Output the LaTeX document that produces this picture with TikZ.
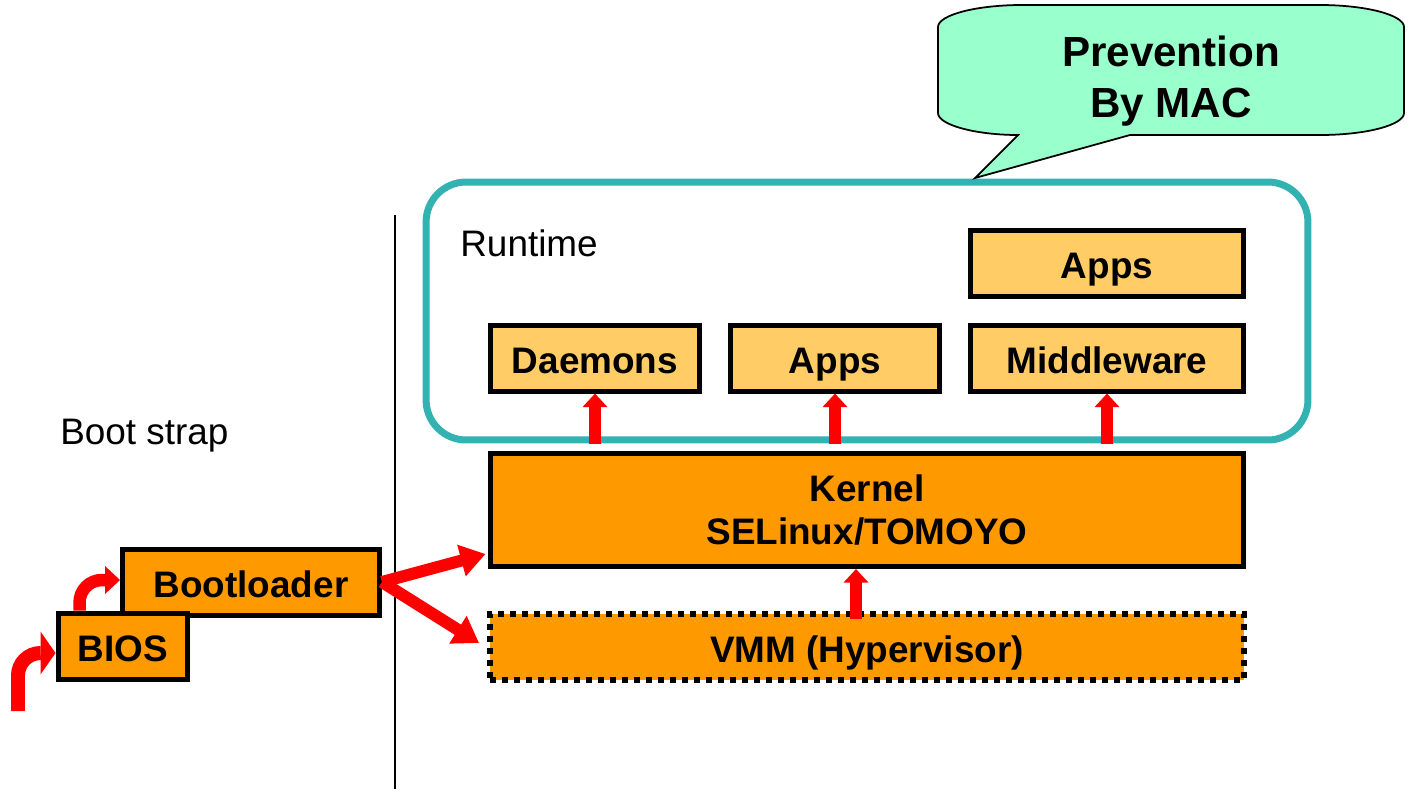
\documentclass[tikz,border=0pt]{standalone}
\usepackage{fontspec}
\setmainfont{Liberation Sans}
\usetikzlibrary{arrows.meta, positioning, calc}

\definecolor{appfill}{HTML}{FFCC66}
\definecolor{corefill}{HTML}{FF9900}
\definecolor{macgreen}{HTML}{99FFCC}
\definecolor{runteal}{HTML}{33B2B2}

\begin{document}
\begin{tikzpicture}[
    x=0.02cm, y=-0.02cm,
    plaintext/.style={font=\fontsize{21}{25}\selectfont, inner sep=0pt},
    oneline/.style={text height=0.6cm, text depth=0pt},
    userbox/.style={rectangle, draw=black, line width=0.1cm, fill=appfill, minimum height=1.32cm, inner sep=0pt, font=\bfseries\fontsize{21}{25}\selectfont, oneline},
    corebox/.style={rectangle, draw=black, line width=0.1cm, fill=corefill, minimum height=1.32cm, inner sep=0pt, font=\bfseries\fontsize{21}{24.5}\selectfont},
    vmmbox/.style={corebox, oneline, line width=0.12cm, dash pattern=on 0.12cm off 0.12cm},
    runframe/.style={rectangle, draw=runteal, line width=0.14cm, rounded corners=0.8cm, minimum width=17.64cm, minimum height=5.16cm},
    macbubble/.style={draw=black, line width=1pt, fill=macgreen, line join=miter},
    uparrow/.style={draw=red, line width=0.23cm, -{Triangle[width=0.48cm, length=0.27cm]}},
    bootarrow/.style={draw=red, line width=0.24cm, -{Triangle[width=0.62cm, length=0.5cm]}},
    curvearrow/.style={draw=red, line width=0.28cm, rounded corners=0.45cm},
  ]
    \useasboundingbox (0,0) rectangle (1412,789);

    % runtime layer
    \node[runframe] (runtime) at (867,311) {};
    \node[plaintext, anchor=base west] (runlabel) at (460,256) {Runtime};
    \node[userbox, minimum width=5.48cm] (appstop) at (1107,263) {Apps};
    \node[userbox, minimum width=4.2cm] (daemons) at (595,358) {Daemons};
    \node[userbox, minimum width=4.2cm] (appsmid) at (835,358) {Apps};
    \node[userbox, minimum width=5.48cm] (middleware) at (1107,358) {Middleware};

    % kernel and vmm
    \node[corebox, minimum width=15.08cm, minimum height=2.26cm, align=center] (kernel) at (867,510) {Kernel\\SELinux/TOMOYO};
    \node[vmmbox, minimum width=15.08cm] (vmm) at (867,647) {VMM (Hypervisor)};

    % boot strap side
    \draw[line width=0.04cm] (395,215) coordinate (sepTop) -- (395,789) coordinate (sepBottom);
    \node[plaintext, anchor=base west] (bootlabel) at (60,444) {Boot strap};
    \node[corebox, oneline, minimum width=5.14cm] (bootloader) at (251,582) {Bootloader};
    \node[corebox, oneline, minimum width=2.6cm] (bios) at (123,646) {BIOS};

    % speech bubble
    \draw[macbubble] (1130,135) -- (1320,135) .. controls (1366,135) and (1404,125) .. (1404,113)
      -- (1404,27) .. controls (1404,15) and (1366,5) .. (1320,5)
      -- (1022,5) .. controls (976,5) and (938,15) .. (938,27)
      -- (938,113) .. controls (938,125) and (976,135) .. (1018,135)
      -- (975,178) coordinate (macTip) -- cycle;
    \node[font=\bfseries\fontsize{24}{29}\selectfont, align=center, inner sep=0pt] (mactext) at (1171,81) {Prevention\\By MAC};

    % arrows
    \foreach \upper in {daemons, appsmid, middleware}
      \draw[uparrow] ([yshift=0.14cm]\upper.south |- kernel.north) -- (\upper.south);
    \draw[uparrow] ([xshift=-0.22cm, yshift=-0.16cm]vmm.north) -- ([xshift=-0.22cm]kernel.south);
    \draw[bootarrow] (bootloader.east) -- ([xshift=-0.04cm, yshift=0.3cm]kernel.south west);
    \draw[bootarrow] (bootloader.east) -- ([xshift=-0.16cm, yshift=0.08cm]vmm.west);

    \coordinate (powerin) at (18,789);
    \draw[curvearrow] (powerin |- 0,711) |- ([xshift=-0.3cm, yshift=-0.14cm]bios.west);
    \fill[red] ([yshift=-0.14cm]bios.west) -- ++(-0.3cm,0.43cm) -- ++(0,-0.86cm) -- cycle;
    \draw[curvearrow, line width=0.25cm] ([xshift=0.48cm]bios.north west) |- ([xshift=-0.3cm, yshift=0.04cm]bootloader.west);
    \fill[red] ([yshift=0.04cm]bootloader.west) -- ++(-0.3cm,0.28cm) -- ++(0,-0.56cm) -- cycle;
  \end{tikzpicture}
\end{document}
